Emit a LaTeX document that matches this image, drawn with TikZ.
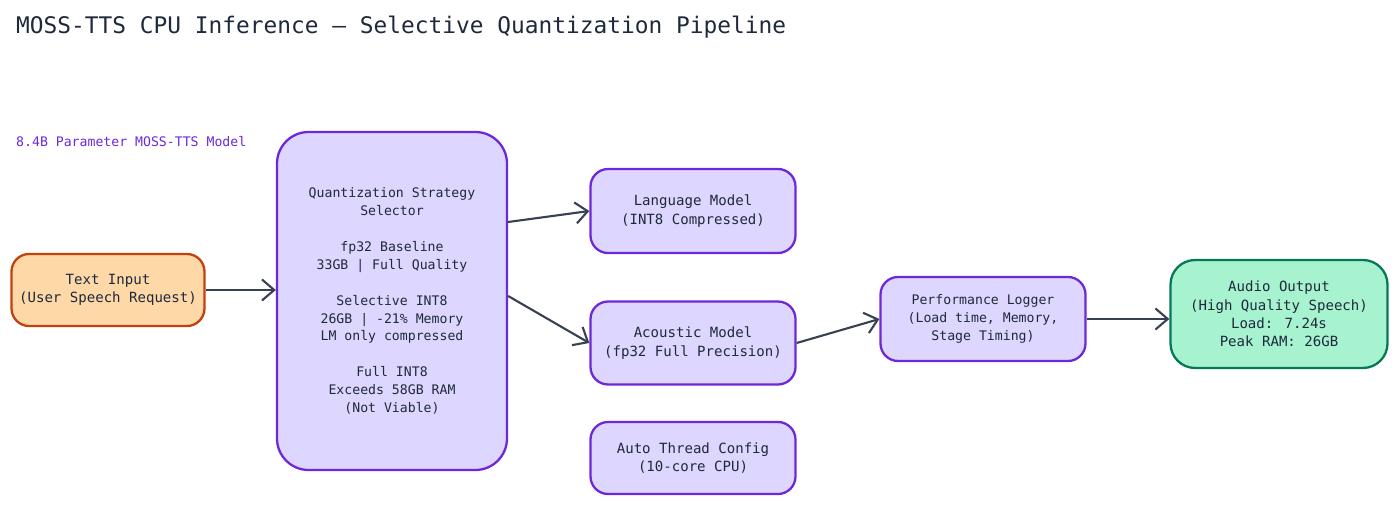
\documentclass[tikz,border=0pt]{standalone}
\usepackage{fontspec}
\setmainfont{DejaVu Sans Mono}
\usetikzlibrary{arrows.meta}
\definecolor{boxfill}{HTML}{DDD6FE}
\definecolor{boxdraw}{HTML}{6D28D9}
\definecolor{inpfill}{HTML}{FFD8A8}
\definecolor{inpdraw}{HTML}{C2410C}
\definecolor{outfill}{HTML}{A7F3D0}
\definecolor{outdraw}{HTML}{047857}
\definecolor{linecol}{HTML}{374151}
\definecolor{titlecol}{HTML}{1E293B}
\tikzset{
  stage/.style={draw=boxdraw, fill=boxfill, line width=1.3pt, rounded corners=10pt,
    align=center, text=titlecol, font=\fontsize{8}{10.5}\selectfont, inner sep=0pt},
  flow/.style={draw=linecol, line width=1.2pt, -{Straight Barb[length=7pt,width=12pt]}}
}
\begin{document}
\begin{tikzpicture}[x=0.02cm, y=-0.02cm]
  \useasboundingbox (0,0) rectangle (1400,507);
  \node[anchor=west, text=titlecol, font=\fontsize{13}{15}\selectfont] (title) at (10,27)
    {MOSS-TTS CPU Inference — Selective Quantization Pipeline};
  \node[anchor=west, text=boxdraw, font=\fontsize{7.5}{9}\selectfont] (model) at (10,142)
    {8.4B Parameter MOSS-TTS Model};

  \node[stage, draw=inpdraw, fill=inpfill, minimum width=193*0.02cm, minimum height=72*0.02cm] (text) at (108,290)
    {Text Input\\(User Speech Request)};
  \node[stage, font=\fontsize{7.5}{10.2}\selectfont, rounded corners=18pt, minimum width=230*0.02cm, minimum height=338*0.02cm] (select) at (392,301)
    {Quantization Strategy\\Selector\\[10.2pt]fp32 Baseline\\33GB | Full Quality\\[10.2pt]Selective INT8\\26GB | -21\% Memory\\LM only compressed\\[10.2pt]Full INT8\\Exceeds 58GB RAM\\(Not Viable)};
  \node[stage, minimum width=205*0.02cm, minimum height=84*0.02cm] (lm) at (693,211)
    {Language Model\\(INT8 Compressed)};
  \node[stage, minimum width=205*0.02cm, minimum height=83*0.02cm] (acoustic) at (693,343)
    {Acoustic Model\\(fp32 Full Precision)};
  \node[stage, minimum width=205*0.02cm, minimum height=72*0.02cm] (thread) at (693,458)
    {Auto Thread Config\\(10-core CPU)};
  \node[stage, font=\fontsize{7.5}{10.2}\selectfont, minimum width=205*0.02cm, minimum height=84*0.02cm] (logger) at (983,319)
    {Performance Logger\\(Load time, Memory,\\Stage Timing)};
  \node[stage, draw=outdraw, fill=outfill, rounded corners=14pt, minimum width=217*0.02cm, minimum height=108*0.02cm] (audio) at (1279,314)
    {Audio Output\\(High Quality Speech)\\Load: 7.24s\\Peak RAM: 26GB};

  \draw[flow] (text.east) -- (select.west |- text.east);
  \draw[flow] (select.east |- 0,222) -- (lm.west);
  \draw[flow] (select.east |- 0,296) -- (acoustic.west);
  \draw[flow] (acoustic.east) -- (logger.west);
  \draw[flow] (logger.east) -- (audio.west |- logger.east);
\end{tikzpicture}
\end{document}
